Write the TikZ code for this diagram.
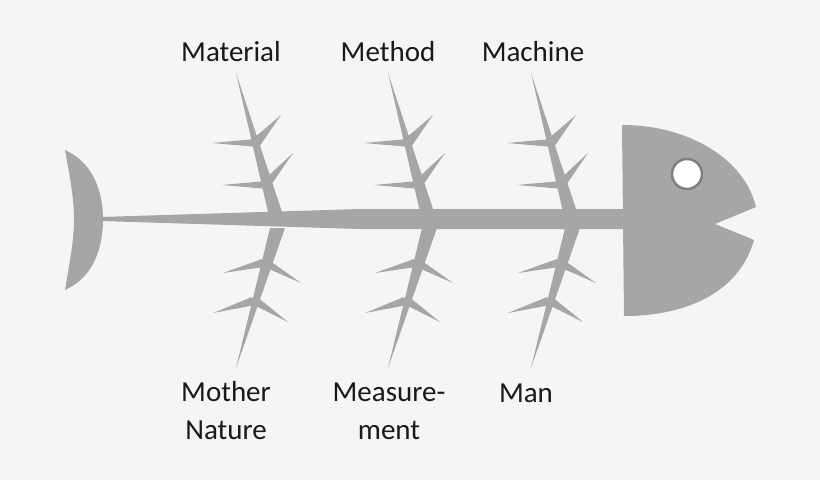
\documentclass[tikz,border=0pt]{standalone}
\usepackage{fontspec}
\setmainfont{Carlito}
\definecolor{bg}{HTML}{F5F5F5}
\definecolor{bone}{HTML}{A6A6A6}
\definecolor{ring}{HTML}{808080}
\begin{document}
\begin{tikzpicture}[x=1pt,y=-1pt,
  lab/.style={font=\fontsize{29}{38}\selectfont,align=center,text=black!90}]
\fill[bg] (0,0) rectangle (820,480);
\useasboundingbox (0,0) rectangle (820,480);
% tail
\fill[bone] (65,150) .. controls (98,165) and (103,200) .. (103,219)
  .. controls (103,240) and (98,275) .. (65,290)
  .. controls (70,260) and (74,240) .. (74,219)
  .. controls (74,198) and (70,178) .. (65,150) -- cycle;
% spine
\fill[bone] (100,217) -- (360,209) -- (625,209) -- (625,229) -- (360,229) -- (100,221) -- cycle;
% head
\fill[bone] (622,125) .. controls (690,125) and (745,160) .. (756,207)
  -- (715,224) -- (754,240)
  .. controls (740,290) and (690,316) .. (624,316) -- cycle;
\fill[white] (687,174) circle (15);
\draw[ring,line width=2.5] (687,174) circle (15);
% bones
\foreach \dx/\nm in {0/a,152/b,295/c}{
 \begin{scope}[xshift=\dx]
  \fill[bone] (236,73) -- (282,212) -- (268,212) -- cycle;
  \fill[bone] (270,228) -- (285,228) -- (236,368) -- cycle;
  % upper spikes
  \fill[bone] (212,143) -- (256,139) -- (258,147) -- cycle;
  \fill[bone] (281,115) -- (259,147) -- (254,138) -- cycle;
  \fill[bone] (222,185) -- (266,181) -- (268,189) -- cycle;
  \fill[bone] (293,153) -- (269,188) -- (264,180) -- cycle;
  % lower spikes
  \fill[bone] (223,273) -- (262,259) -- (264,267) -- cycle;
  \fill[bone] (301,283) -- (262,266) -- (266,258) -- cycle;
  \fill[bone] (213,313) -- (252,297) -- (255,305) -- cycle;
  \fill[bone] (288,322) -- (252,304) -- (256,296) -- cycle;
 \end{scope}}
% labels
\node[lab] (l1) at (231,52) {Material};
\node[lab] (l2) at (388,52) {Method};
\node[lab] (l3) at (533,52) {Machine};
\node[lab] (l4) at (226,411) {Mother\\Nature};
\node[lab] (l5) at (389,411) {Measure-\\ment};
\node[lab] (l6) at (526,393) {Man};
\end{tikzpicture}
\end{document}
